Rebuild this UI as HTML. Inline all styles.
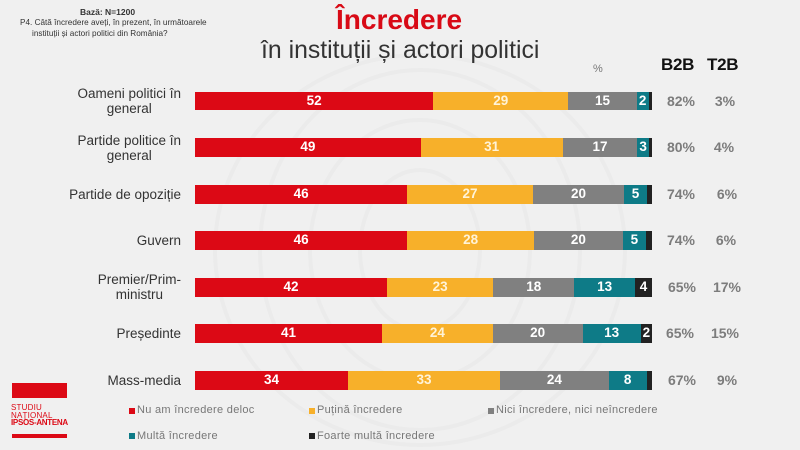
<!DOCTYPE html>
<html><head><meta charset="utf-8">
<style>
*{margin:0;padding:0;box-sizing:border-box}
html,body{width:800px;height:450px;overflow:hidden}
body{background:#f0f0f0;font-family:"Liberation Sans",sans-serif;position:relative}
.a{position:absolute;white-space:nowrap}
.seg{position:absolute;height:18.8px;line-height:18.8px;text-align:center;color:#fff;font-weight:bold;font-size:13.5px;overflow:hidden}
.r{background:#dc0915}.y{background:#f7b02a;color:#fff3d8}.g{background:#808080}.t{background:#0e7b87}.d{background:#222}
.lab{position:absolute;right:619px;text-align:center;font-size:13.5px;line-height:15px;color:#333}
.v{position:absolute;width:40px;text-align:center;font-size:14px;font-weight:bold;color:#7c7c7c;line-height:18.8px}
.leg{position:absolute;font-size:11px;color:#777;letter-spacing:0.3px;line-height:12px}
.sq{position:absolute;width:6px;height:6px}
</style></head><body>
<svg class="a" style="left:0;top:0;overflow:hidden" width="800" height="450">
<g fill="none" stroke="#ebebeb" stroke-width="4">
<ellipse cx="420" cy="250" rx="60" ry="80"/>
<ellipse cx="420" cy="250" rx="110" ry="130"/>
<ellipse cx="420" cy="250" rx="160" ry="180"/>
<ellipse cx="420" cy="250" rx="205" ry="195"/>
</g>
</svg>

<div class="a" style="left:80px;top:7px;font-size:8.5px;font-weight:bold;color:#333">Bază: N=1200</div>
<div class="a" style="left:20px;top:18px;font-size:8.2px;color:#333">P4. Câtă încredere aveți, în prezent, în următoarele</div>
<div class="a" style="left:32px;top:29px;font-size:8.2px;color:#333">instituții și actori politici din România?</div>

<div class="a" style="left:336px;top:3px;font-size:28px;font-weight:bold;color:#d80a16;line-height:34px">Încredere</div>
<div class="a" style="left:261px;top:36px;font-size:24.8px;color:#333;line-height:30px">în instituții și actori politici</div>

<div class="a" style="left:593px;top:63px;font-size:11px;color:#777">%</div>
<div class="a" style="left:661px;top:55px;font-size:17px;font-weight:bold;color:#111;letter-spacing:-0.3px">B2B</div>
<div class="a" style="left:707px;top:55px;font-size:17px;font-weight:bold;color:#111;letter-spacing:-0.3px">T2B</div>

<!-- labels -->
<div class="lab" style="top:86px">Oameni politici în<br>general</div>
<div class="lab" style="top:132.5px">Partide politice în<br>general</div>
<div class="lab" style="top:186.7px">Partide de opoziție</div>
<div class="lab" style="top:233.2px">Guvern</div>
<div class="lab" style="top:272.3px">Premier/Prim-<br>ministru</div>
<div class="lab" style="top:326.3px">Președinte</div>
<div class="lab" style="top:372.9px">Mass-media</div>

<!-- row1 -->
<div class="seg r" style="top:91.7px;left:195px;width:238.3px">52</div>
<div class="seg y" style="top:91.7px;left:433.3px;width:135px">29</div>
<div class="seg g" style="top:91.7px;left:568.3px;width:68.4px">15</div>
<div class="seg t" style="top:91.7px;left:636.7px;width:12px">2</div>
<div class="seg d" style="top:91.7px;left:648.7px;width:3.3px"></div>
<!-- row2 -->
<div class="seg r" style="top:138.25px;left:195px;width:225.7px">49</div>
<div class="seg y" style="top:138.25px;left:420.7px;width:142px">31</div>
<div class="seg g" style="top:138.25px;left:562.7px;width:74.6px">17</div>
<div class="seg t" style="top:138.25px;left:637.3px;width:11.7px">3</div>
<div class="seg d" style="top:138.25px;left:649px;width:3px"></div>
<!-- row3 -->
<div class="seg r" style="top:184.8px;left:195px;width:212.3px">46</div>
<div class="seg y" style="top:184.8px;left:407.3px;width:125.4px">27</div>
<div class="seg g" style="top:184.8px;left:532.7px;width:91.6px">20</div>
<div class="seg t" style="top:184.8px;left:624.3px;width:22.4px">5</div>
<div class="seg d" style="top:184.8px;left:646.7px;width:5.3px"></div>
<!-- row4 -->
<div class="seg r" style="top:231.35px;left:195px;width:212.3px">46</div>
<div class="seg y" style="top:231.35px;left:407.3px;width:126.7px">28</div>
<div class="seg g" style="top:231.35px;left:534px;width:88.7px">20</div>
<div class="seg t" style="top:231.35px;left:622.7px;width:23.3px">5</div>
<div class="seg d" style="top:231.35px;left:646px;width:6px"></div>
<!-- row5 -->
<div class="seg r" style="top:277.9px;left:195px;width:192px">42</div>
<div class="seg y" style="top:277.9px;left:387px;width:106.3px">23</div>
<div class="seg g" style="top:277.9px;left:493.3px;width:81px">18</div>
<div class="seg t" style="top:277.9px;left:574.3px;width:60.7px">13</div>
<div class="seg d" style="top:277.9px;left:635px;width:17px">4</div>
<!-- row6 -->
<div class="seg r" style="top:324.45px;left:195px;width:187px">41</div>
<div class="seg y" style="top:324.45px;left:382px;width:110.7px">24</div>
<div class="seg g" style="top:324.45px;left:492.7px;width:90px">20</div>
<div class="seg t" style="top:324.45px;left:582.7px;width:58px">13</div>
<div class="seg d" style="top:324.45px;left:640.7px;width:11.3px">2</div>
<!-- row7 -->
<div class="seg r" style="top:371px;left:195px;width:153px">34</div>
<div class="seg y" style="top:371px;left:348px;width:152px">33</div>
<div class="seg g" style="top:371px;left:500px;width:108.7px">24</div>
<div class="seg t" style="top:371px;left:608.7px;width:38px">8</div>
<div class="seg d" style="top:371px;left:646.7px;width:5.3px"></div>

<!-- B2B / T2B values -->
<div class="v" style="left:661px;top:91.7px">82%</div><div class="v" style="left:705px;top:91.7px">3%</div>
<div class="v" style="left:661px;top:138.25px">80%</div><div class="v" style="left:704px;top:138.25px">4%</div>
<div class="v" style="left:661px;top:184.8px">74%</div><div class="v" style="left:707px;top:184.8px">6%</div>
<div class="v" style="left:661px;top:231.35px">74%</div><div class="v" style="left:706px;top:231.35px">6%</div>
<div class="v" style="left:662px;top:277.9px">65%</div><div class="v" style="left:707px;top:277.9px">17%</div>
<div class="v" style="left:660px;top:324.45px">65%</div><div class="v" style="left:705px;top:324.45px">15%</div>
<div class="v" style="left:662px;top:371px">67%</div><div class="v" style="left:707px;top:371px">9%</div>

<!-- legend -->
<div class="sq" style="left:128.5px;top:407.5px;background:#dc0915"></div>
<div class="leg" style="left:137px;top:404px">Nu am încredere deloc</div>
<div class="sq" style="left:308.5px;top:407.5px;background:#f7b02a"></div>
<div class="leg" style="left:317px;top:404px">Puțină încredere</div>
<div class="sq" style="left:487.5px;top:407.5px;background:#808080"></div>
<div class="leg" style="left:496px;top:404px">Nici încredere, nici neîncredere</div>
<div class="sq" style="left:128.5px;top:433px;background:#0e7b87"></div>
<div class="leg" style="left:137px;top:430px">Multă încredere</div>
<div class="sq" style="left:308.5px;top:433px;background:#222"></div>
<div class="leg" style="left:317px;top:430px">Foarte multă încredere</div>

<!-- logo -->
<div class="a" style="left:12px;top:383px;width:55px;height:15px;background:#dc0915"></div>
<div class="a" style="left:11px;top:404px;font-size:8px;line-height:7.5px;color:#dc0915;letter-spacing:0.2px">STUDIU<br>NAȚIONAL<br><b style="letter-spacing:-0.3px">IPSOS-ANTENA</b></div>
<div class="a" style="left:12px;top:434px;width:55px;height:3.7px;background:#dc0915"></div>
</body></html>
